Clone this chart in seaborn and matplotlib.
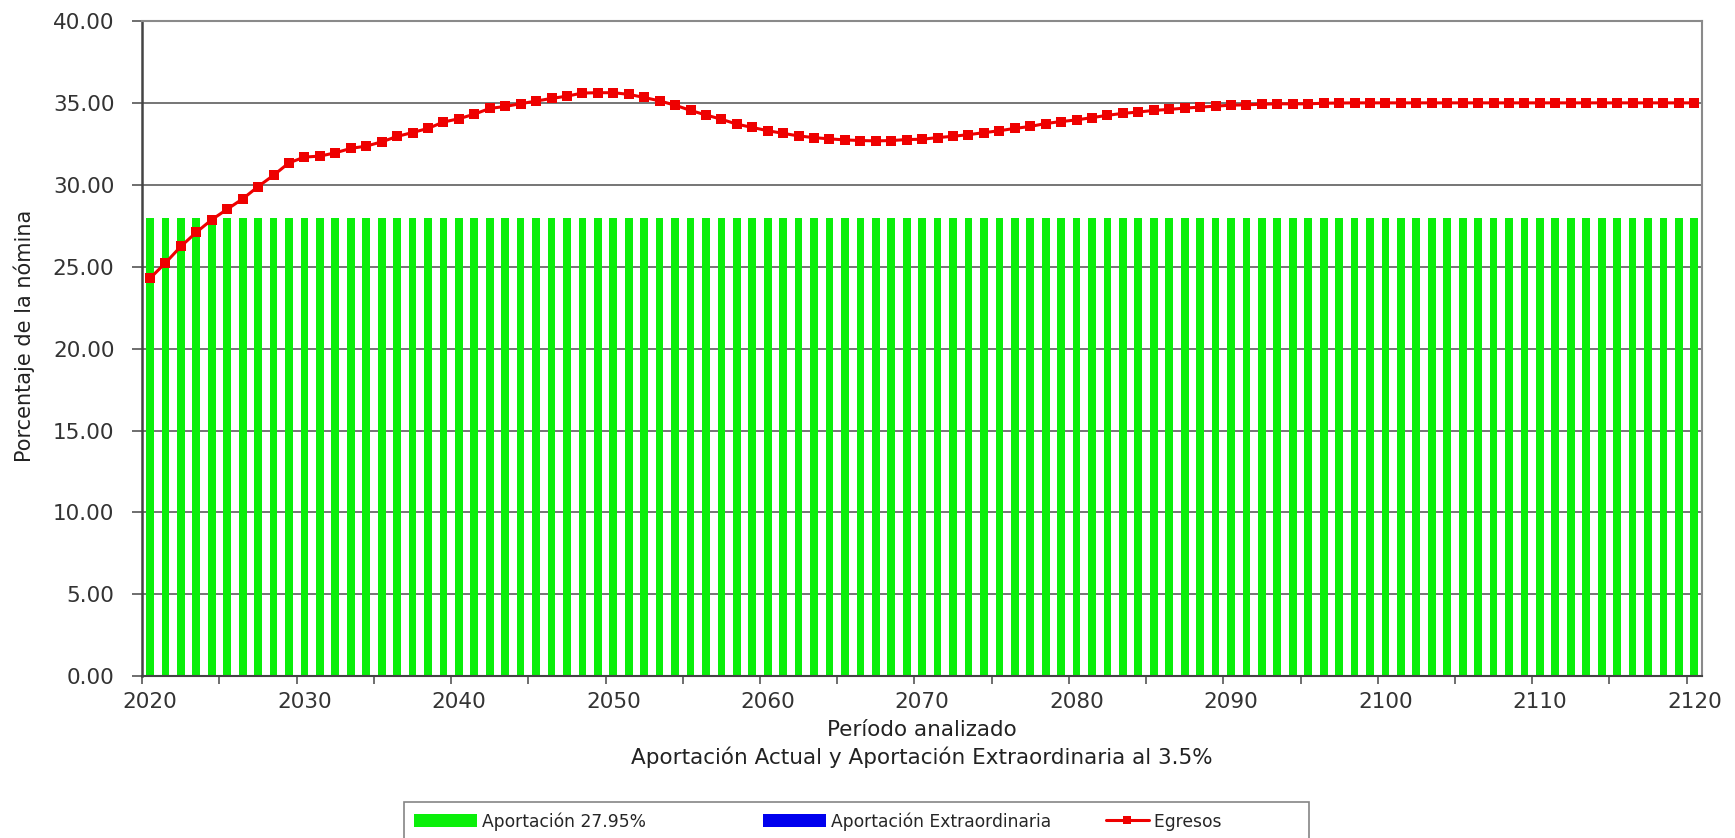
import numpy as np
import pandas as pd
import matplotlib
matplotlib.use("Agg")
import matplotlib.pyplot as plt
import seaborn as sns
from matplotlib.patches import Patch
from matplotlib.lines import Line2D
from matplotlib.legend_handler import HandlerLine2D
from matplotlib.ticker import MultipleLocator, FixedLocator

# datos
years = list(range(2020, 2121))
aportacion = [27.95] * len(years)
extraordinaria = [0.0] * len(years)
egresos = [
    24.29, 25.23, 26.24, 27.10, 27.87, 28.51, 29.14, 29.89, 30.58, 31.34,  # 2020-2029
    31.69, 31.75, 31.95, 32.22, 32.36, 32.62, 32.95, 33.19, 33.44, 33.83,  # 2030-2039
    34.03, 34.31, 34.66, 34.78, 34.95, 35.11, 35.27, 35.41, 35.60, 35.62,  # 2040-2049
    35.62, 35.52, 35.33, 35.12, 34.86, 34.54, 34.26, 34.00, 33.70, 33.50,  # 2050-2059
    33.30, 33.14, 32.98, 32.88, 32.80, 32.74, 32.70, 32.68, 32.70, 32.76,  # 2060-2069
    32.78, 32.88, 32.96, 33.06, 33.18, 33.30, 33.44, 33.56, 33.74, 33.86,  # 2070-2079
    33.96, 34.10, 34.24, 34.36, 34.44, 34.54, 34.60, 34.68, 34.74, 34.80,  # 2080-2089
    34.86, 34.88, 34.92, 34.94, 34.94, 34.94, 34.98, 34.99, 35.00, 35.00,  # 2090-2099
    35.00, 35.00, 35.00, 35.00, 35.00, 35.00, 35.00, 35.00, 35.00, 35.00,  # 2100-2109
    35.00, 35.00, 35.00, 35.00, 35.00, 35.00, 35.00, 35.00, 35.00, 35.00,  # 2110-2119
    35.00,                                                                  # 2120
]
year_labels = list(range(2020, 2121, 10))

df = pd.DataFrame({"anio": years, "aportacion": aportacion,
                   "extra": extraordinaria, "egresos": egresos})

verde = "#0aef0a"
azul = "#0000ee"
rojo = "#ee0000"


class ShortLine(HandlerLine2D):
    # linea de leyenda mas corta, pegada al texto
    def create_artists(self, legend, orig_handle, xdescent, ydescent,
                       width, height, fontsize, trans):
        w = width * 0.68
        return super().create_artists(legend, orig_handle, xdescent - (width - w),
                                      ydescent, w, height, fontsize, trans)


sns.set_style("white")
plt.rcParams['font.family'] = ['DejaVu Sans']

fig, ax = plt.subplots(figsize=(17.35, 8.38), dpi=100)
fig.subplots_adjust(left=0.082, right=0.981, top=0.975, bottom=0.193)

sns.barplot(data=df, x="anio", y="aportacion", native_scale=True, width=0.5,
            color=verde, saturation=1, linewidth=0, ax=ax, zorder=2)
sns.barplot(data=df, x="anio", y="extra", native_scale=True, width=0.5,
            color=azul, saturation=1, linewidth=0, ax=ax, zorder=2)
sns.lineplot(data=df, x="anio", y="egresos", color=rojo, marker="s",
             markersize=6.5, markeredgewidth=0, linewidth=2.2, ax=ax, zorder=4)

ax.set_xlim(2019.5, 2120.5)
ax.set_ylim(0, 40)
ax.yaxis.set_major_locator(MultipleLocator(5))
ax.yaxis.set_major_formatter(matplotlib.ticker.FormatStrFormatter("%.2f"))
ax.grid(axis="y", color="#6a6a6a", linewidth=1.3, zorder=1)
ax.set_axisbelow(True)

ax.xaxis.set_major_locator(FixedLocator(year_labels))
ax.set_xticklabels([str(y) for y in year_labels])
ax.xaxis.set_minor_locator(FixedLocator(np.arange(2019.5, 2121, 5)))
ax.tick_params(axis="x", which="major", length=0, pad=11, labelsize=15.5, colors="#333333")
ax.tick_params(axis="x", which="minor", length=6, width=1.2, color="#555555", direction="out")
ax.tick_params(axis="y", which="major", length=7, width=1.2, color="#555555",
               direction="out", pad=13, labelsize=15.5, labelcolor="#333333")
ax.tick_params(axis="y", left=True)
ax.tick_params(axis="x", which="minor", bottom=True)

for s in ["top", "right"]:
    ax.spines[s].set_visible(True)
    ax.spines[s].set_color("#8a8a8a")
    ax.spines[s].set_linewidth(1.5)
ax.spines["left"].set_color("#444444")
ax.spines["left"].set_linewidth(1.8)
ax.spines["bottom"].set_color("#444444")
ax.spines["bottom"].set_linewidth(1.5)

ax.set_xlabel("Período analizado\nAportación Actual y Aportación Extraordinaria al 3.5%",
              fontsize=15.5, color="#222222", labelpad=6, linespacing=1.35)
ax.set_ylabel("Porcentaje de la nómina", fontsize=15, color="#222222")
ax.yaxis.set_label_coords(-0.069, 0.52)

handles = [Patch(facecolor=verde, edgecolor="none", label="Aportación 27.95%" + " " * 15),
           Patch(facecolor=azul, edgecolor="none", label="Aportación Extraordinaria"),
           Line2D([], [], color=rojo, marker="s", markersize=5.5, markeredgewidth=0,
                  linewidth=2.2, label="Egresos" + " " * 14)]
leg = fig.legend(handles=handles, loc="upper center", bbox_to_anchor=(0.4934, 0.043),
                 ncol=3, frameon=True, fancybox=False, fontsize=12.3,
                 handlelength=3.7, handleheight=0.8, handletextpad=0.3,
                 columnspacing=2.0, borderpad=0.6, borderaxespad=0,
                 handler_map={Line2D: ShortLine()})
leg.get_frame().set_edgecolor("#666666")
leg.get_frame().set_linewidth(1.2)

fig.savefig("out.png", dpi=100)
